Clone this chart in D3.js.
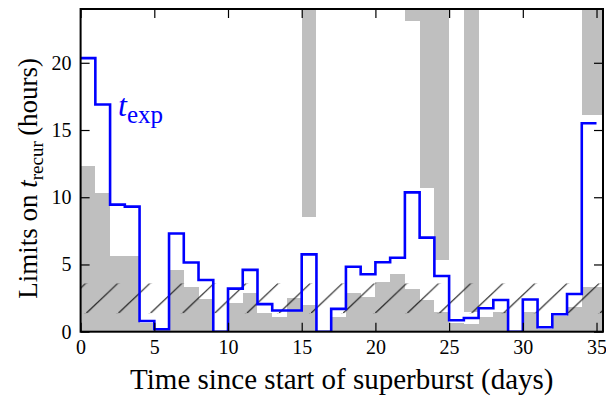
<!DOCTYPE html>
<html><head><meta charset="utf-8">
<script src="https://cdn.jsdelivr.net/npm/d3@7"></script>
<style>body{margin:0;background:#fff}svg{display:block}</style>
</head><body>
<svg id="c" width="606" height="396"></svg>
<script>
// bin start days (1-day bins)
const binStart = d3.range(0, 35);
// expected recurrence time (blue step line), hours
const tExp = [20.35,16.9,9.45,9.3,0.8,0.18,7.3,5.15,3.85,0,3.2,4.6,2.05,1.58,1.58,5.75,0,1.7,4.83,4.27,5.16,5.5,10.36,7.0,4.14,0.85,1.02,1.74,2.36,0,2.4,0.33,1.3,2.8,15.5];
// lower limits (grey from 0 up)
const lowerLimit = [12.35,10.3,5.65,5.6,0.67,0.1,4.6,3.3,2.4,0,2.1,2.85,1.37,1.1,2.5,2.0,0,1.1,2.9,2.6,3.7,4.27,3.2,2.35,1.5,0.67,0.6,1.1,1.5,0,1.5,0.2,1.2,1.8,3.35];
// upper limits (grey from limit to top); null = none
const upperLimit = [null,null,null,null,null,null,null,null,null,null,null,null,null,null,null,8.5,null,null,null,null,null,null,23.1,10.66,5.33,null,1.45,null,null,null,null,null,null,null,16.1];
// hatched band (hours)
const hatchBand = [1.37, 3.6];
const xTicks = [0,5,10,15,20,25,30,35];
const yTicks = [0,5,10,15,20];

const svg = d3.select("#c");
const L = 80.6, R = 603, T = 9, B = 331.7;
const xMax = 35.44;
const x = d3.scaleLinear().domain([0, xMax]).range([L, R]);
const y = d3.scaleLinear().domain([0, 24]).range([B, T]);
const font = "'Liberation Serif', 'DejaVu Serif', serif";

const defs = svg.append("defs");
defs.append("clipPath").attr("id","clip").append("rect")
  .attr("x",L).attr("y",T).attr("width",R-L).attr("height",B-T);
const bandTop = y(hatchBand[1]), bandH = y(hatchBand[0]) - y(hatchBand[1]);
const pat = defs.append("pattern").attr("id","hatch").attr("patternUnits","userSpaceOnUse")
  .attr("x", 86.3).attr("y", bandTop).attr("width", 32.1).attr("height", bandH);
pat.append("line").attr("x1",0).attr("y1",bandH).attr("x2",31.6).attr("y2",0)
  .attr("stroke","#000").attr("stroke-width",1);

const g = svg.append("g").attr("clip-path","url(#clip)");
const binEnd = i => (i === binStart.length - 1 ? xMax : binStart[i] + 1);

// lower grey
g.selectAll("rect.lo").data(binStart).join("rect").attr("class","lo")
  .attr("x", d => x(d)).attr("width", (d,i) => x(binEnd(i)) - x(d))
  .attr("y", (d,i) => y(lowerLimit[i])).attr("height", (d,i) => y(0) - y(lowerLimit[i]))
  .attr("fill","#bfbfbf").attr("shape-rendering","crispEdges");
// upper grey
g.selectAll("rect.up").data(binStart.filter((d,i)=>upperLimit[i]!==null)).join("rect").attr("class","up")
  .attr("x", d => x(d)).attr("width", d => x(binEnd(binStart.indexOf(d))) - x(d))
  .attr("y", y(24)).attr("height", d => y(upperLimit[d]) - y(24))
  .attr("fill","#bfbfbf").attr("shape-rendering","crispEdges");

// hatched band
g.append("rect").attr("x", L).attr("width", R-L).attr("y", bandTop).attr("height", bandH)
  .attr("fill","url(#hatch)");

// blue step line
const pts = binStart.map((d,i)=>[d, tExp[i]]);
pts.push([binStart[binStart.length-1]+1, tExp[tExp.length-1]]);
const line = d3.line().x(d=>x(d[0])).y(d=>y(d[1])).curve(d3.curveStepAfter);
g.append("path").attr("d", line(pts)).attr("fill","none").attr("stroke","#0000ff")
  .attr("stroke-width",2.6).attr("stroke-linejoin","miter");

// axes (ticks inward, all sides)
const tk = 9;
function styleAxis(sel, labels){
  sel.select(".domain").remove();
  sel.selectAll(".tick line").attr("stroke","#000").attr("stroke-width",1.2);
  sel.selectAll(".tick text").attr("font-family",font).attr("font-size",20).attr("fill","#000");
  if(!labels) sel.selectAll(".tick text").remove();
}
svg.append("g").attr("transform",`translate(0,${B})`)
  .call(d3.axisBottom(x).tickValues(xTicks).tickSize(-tk).tickPadding(8).tickFormat(d3.format("d")))
  .call(s=>styleAxis(s,true));
svg.append("g").attr("transform",`translate(0,${T})`)
  .call(d3.axisTop(x).tickValues(xTicks).tickSize(-tk))
  .call(s=>styleAxis(s,false));
svg.append("g").attr("transform",`translate(${L},0)`)
  .call(d3.axisLeft(y).tickValues(yTicks).tickSize(-tk).tickPadding(9).tickFormat(d3.format("d")))
  .call(s=>styleAxis(s,true));
svg.append("g").attr("transform",`translate(${R},0)`)
  .call(d3.axisRight(y).tickValues(yTicks).tickSize(-tk))
  .call(s=>styleAxis(s,false));

// frame
svg.append("rect").attr("x",L).attr("y",T).attr("width",R-L).attr("height",B-T)
  .attr("fill","none").attr("stroke","#000").attr("stroke-width",2);

// t_exp label
const lab = svg.append("text").attr("x",118).attr("y",116).attr("fill","#0000ff").attr("font-family",font);
lab.append("tspan").attr("font-style","italic").attr("font-size",32).text("t");
lab.append("tspan").attr("font-size",25).attr("dy",7).text("exp");

// x label
svg.append("text").attr("x",(L+R)/2).attr("y",389).attr("text-anchor","middle")
  .attr("font-family",font).attr("font-size",29).attr("fill","#000")
  .text("Time since start of superburst (days)");

// y label
const yl = svg.append("text").attr("transform",`translate(37,${(T+B)/2+8}) rotate(-90)`)
  .attr("text-anchor","middle").attr("font-family",font).attr("font-size",27).attr("fill","#000");
yl.append("tspan").text("Limits on ");
yl.append("tspan").attr("font-style","italic").text("t");
yl.append("tspan").attr("font-size",19).attr("dy",6).text("recur");
yl.append("tspan").attr("dy",-6).text("\u2009(hours)");
</script>
</body></html>
